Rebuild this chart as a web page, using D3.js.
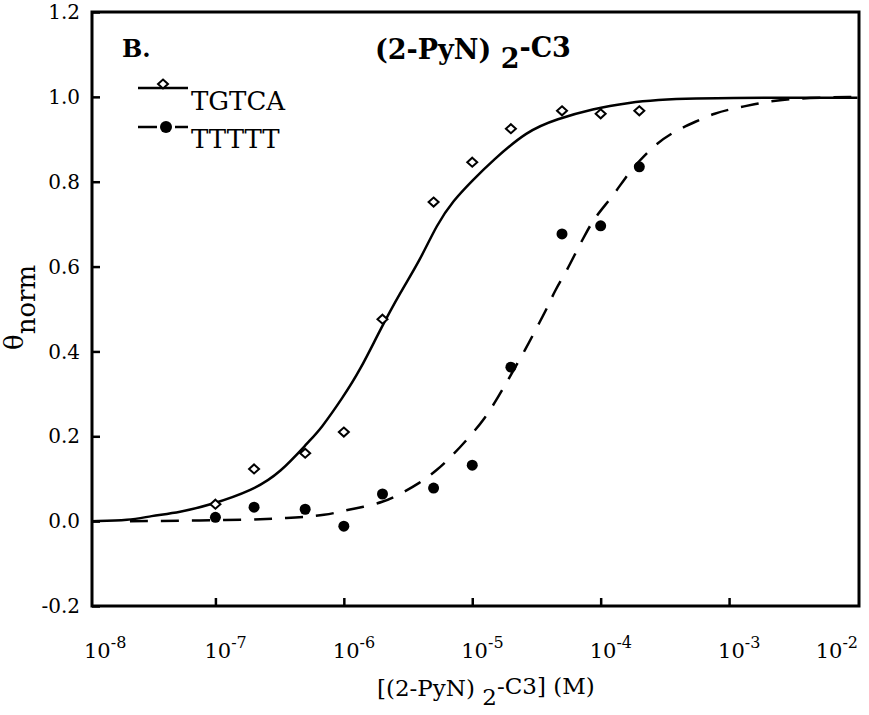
<!DOCTYPE html>
<html>
<head>
<meta charset="utf-8">
<script src="https://cdn.jsdelivr.net/npm/d3@7"></script>
<style>
  html, body { margin: 0; padding: 0; background: #fff; }
  svg { display: block; }
</style>
</head>
<body>
<div id="chart"></div>
<script>
// measured concentrations (M)
const conc = [1e-7, 2e-7, 5e-7, 1e-6, 2e-6, 5e-6, 1e-5, 2e-5, 5e-5, 1e-4, 2e-4];
const tgtca = [0.040, 0.123, 0.160, 0.210, 0.476, 0.752, 0.846, 0.925, 0.967, 0.960, 0.967];
const ttttt = [0.009, 0.033, 0.028, -0.012, 0.064, 0.078, 0.132, 0.363, 0.677, 0.696, 0.835];

// fitted curves
const fitTgtcaX = [1.09e-8, 2.16e-8, 3.10e-8, 5.30e-8, 9.07e-8, 1.96e-7, 3.18e-7, 5.45e-7, 6.53e-7,
  9.86e-7, 1.34e-6, 1.91e-6, 2.74e-6, 3.92e-6, 5.32e-6, 7.08e-6, 1.01e-5, 1.43e-5, 2.67e-5,
  4.57e-5, 8.72e-5, 1.61e-4, 3.66e-4, 1e-2];
const fitTgtcaY = [0.000, 0.002, 0.012, 0.021, 0.038, 0.073, 0.113, 0.191, 0.215,
  0.292, 0.356, 0.450, 0.538, 0.615, 0.700, 0.755, 0.804, 0.849, 0.920,
  0.948, 0.972, 0.986, 0.998, 0.998];

const fitTttttX = [2.16e-8, 1.37e-7, 3.81e-7, 7.40e-7, 1.03e-6, 1.41e-6, 2.02e-6, 2.64e-6, 3.92e-6,
  5.32e-6, 7.08e-6, 9.61e-6, 1.26e-5, 1.56e-5, 1.90e-5, 2.67e-5, 3.25e-5, 3.83e-5, 4.42e-5,
  5.38e-5, 6.55e-5, 7.56e-5, 9.04e-5, 1.23e-4, 1.55e-4, 1.96e-4, 2.75e-4, 3.94e-4, 5.43e-4,
  7.78e-4, 1.07e-3, 1.59e-3, 2.20e-3, 4.05e-3, 1e-2];
const fitTttttY = [0.000, 0.002, 0.007, 0.014, 0.026, 0.033, 0.045, 0.061, 0.090,
  0.120, 0.156, 0.200, 0.243, 0.288, 0.333, 0.411, 0.462, 0.502, 0.545,
  0.587, 0.639, 0.675, 0.717, 0.764, 0.809, 0.847, 0.892, 0.922, 0.941,
  0.962, 0.972, 0.983, 0.991, 0.998, 1.000];

const xTicks = [1e-8, 1e-7, 1e-6, 1e-5, 1e-4, 1e-3, 1e-2];
const xTickExp = ['-8', '-7', '-6', '-5', '-4', '-3', '-2'];
const yTicks = [-0.2, 0.0, 0.2, 0.4, 0.6, 0.8, 1.0, 1.2];

const seriesNames = ['TGTCA', 'TTTTT'];

const width = 869;
const height = 715;
const plot = { left: 92, right: 859, top: 12, bottom: 606 };
const serif = '"DejaVu Serif", serif';

const x = d3.scaleLog()
  .domain([1e-8, 1e-2])
  .range([87, 857.5]);

const y = d3.scaleLinear()
  .domain([-0.2, 1.2])
  .range([plot.bottom, plot.top]);

const svg = d3.select('#chart')
  .append('svg')
  .attr('width', width)
  .attr('height', height);

svg.append('defs')
  .append('clipPath')
  .attr('id', 'plot-clip')
  .append('rect')
  .attr('x', plot.left)
  .attr('y', plot.top)
  .attr('width', plot.right - plot.left)
  .attr('height', plot.bottom - plot.top);

// y axis, ticks pointing inward
const yAxis = d3.axisRight(y)
  .tickValues(yTicks)
  .tickSize(8)
  .tickFormat('');

svg.append('g')
  .attr('transform', `translate(${plot.left},0)`)
  .call(yAxis)
  .call(g => g.select('.domain').remove())
  .call(g => g.selectAll('line').attr('stroke', '#000').attr('stroke-width', 2.5));

// plain hyphen for the minus sign, as in the original
const fmtY = d => d3.format('.1f')(d).replace('\u2212', '-');

svg.append('g')
  .selectAll('text')
  .data(yTicks)
  .enter().append('text')
    .attr('x', 80)
    .attr('y', d => y(d))
    .attr('dy', '0.36em')
    .attr('text-anchor', 'end')
    .attr('font-family', serif)
    .attr('font-size', 20)
    .text(fmtY);

// x axis, ticks pointing inward
const xAxis = d3.axisTop(x)
  .tickValues(xTicks.slice(1, -1))
  .tickSize(8)
  .tickFormat('');

svg.append('g')
  .attr('transform', `translate(0,${plot.bottom})`)
  .call(xAxis)
  .call(g => g.select('.domain').remove())
  .call(g => g.selectAll('line').attr('stroke', '#000').attr('stroke-width', 2.5));

const xLabels = svg.append('g')
  .selectAll('text')
  .data(xTicks)
  .enter().append('text')
    .attr('y', 658)
    .attr('font-family', serif)
    .attr('font-size', 21);

xLabels.append('tspan').text('10');
xLabels.append('tspan')
  .attr('font-size', 16)
  .attr('dy', -10)
  .text((d, i) => xTickExp[i]);

xLabels.each(function (d) {
  const w = this.getComputedTextLength();
  let left = x(d) - 11;
  left = Math.max(84, Math.min(left, 858 - w));
  d3.select(this).attr('x', left);
});

// frame
svg.append('rect')
  .attr('x', plot.left)
  .attr('y', plot.top)
  .attr('width', plot.right - plot.left)
  .attr('height', plot.bottom - plot.top)
  .attr('fill', 'none')
  .attr('stroke', '#000')
  .attr('stroke-width', 3);

// fitted curves
const line = d3.line()
  .x(d => x(d[0]))
  .y(d => y(d[1]))
  .curve(d3.curveBasis);

const curves = svg.append('g').attr('clip-path', 'url(#plot-clip)');

curves.append('path')
  .attr('d', line(d3.zip(fitTgtcaX, fitTgtcaY)))
  .attr('fill', 'none')
  .attr('stroke', '#000')
  .attr('stroke-width', 2.5);

curves.append('path')
  .attr('d', line(d3.zip(fitTttttX, fitTttttY)))
  .attr('fill', 'none')
  .attr('stroke', '#000')
  .attr('stroke-width', 2.5)
  .attr('stroke-dasharray', '18,13');

const diamond = 'M0,-4.5L5,0L0,4.5L-5,0Z';

// data points
svg.append('g')
  .selectAll('path')
  .data(d3.zip(conc, tgtca))
  .enter().append('path')
    .attr('d', diamond)
    .attr('transform', d => `translate(${x(d[0])},${y(d[1])})`)
    .attr('fill', '#fff')
    .attr('stroke', '#000')
    .attr('stroke-width', 2);

svg.append('g')
  .selectAll('circle')
  .data(d3.zip(conc, ttttt))
  .enter().append('circle')
    .attr('cx', d => x(d[0]))
    .attr('cy', d => y(d[1]))
    .attr('r', 5.5)
    .attr('fill', '#000');

// panel label and title
svg.append('text')
  .attr('x', 122)
  .attr('y', 57)
  .attr('font-family', serif)
  .attr('font-weight', 'bold')
  .attr('font-size', 24)
  .text('B.');

const title = svg.append('text')
  .attr('x', 375)
  .attr('y', 59)
  .attr('font-family', serif)
  .attr('font-weight', 'bold')
  .attr('font-size', 27);
title.append('tspan').text('(2-PyN) ');
title.append('tspan').attr('dy', 9).text('2');
title.append('tspan').attr('dy', -11).text('-C3');

// legend
const legend = svg.append('g');

legend.append('line')
  .attr('x1', 138).attr('x2', 188)
  .attr('y1', 88).attr('y2', 88)
  .attr('stroke', '#000')
  .attr('stroke-width', 2.5);

legend.append('path')
  .attr('d', diamond)
  .attr('transform', 'translate(163,84)')
  .attr('fill', '#fff')
  .attr('stroke', '#000')
  .attr('stroke-width', 2);

legend.append('line')
  .attr('x1', 138).attr('x2', 188)
  .attr('y1', 127).attr('y2', 127)
  .attr('stroke', '#000')
  .attr('stroke-width', 2.5)
  .attr('stroke-dasharray', '19,18,13');

legend.append('circle')
  .attr('cx', 166)
  .attr('cy', 127)
  .attr('r', 6)
  .attr('fill', '#000');

legend.selectAll('text.name')
  .data(seriesNames)
  .enter().append('text')
    .attr('class', 'name')
    .attr('x', 191)
    .attr('y', (d, i) => 110 + i * 38)
    .attr('font-family', serif)
    .attr('font-size', 26)
    .text(d => d);

// axis titles
const xTitle = svg.append('text')
  .attr('x', 377)
  .attr('y', 696)
  .attr('font-family', serif)
  .attr('font-size', 23);
xTitle.append('tspan').text('[(2-PyN) ');
xTitle.append('tspan').attr('dy', 9).text('2');
xTitle.append('tspan').attr('dy', -11).text('-C3] (M)');

const yTitle = svg.append('text')
  .attr('transform', 'translate(23,350) rotate(-90)')
  .attr('font-family', serif)
  .attr('font-size', 26);
yTitle.append('tspan').text('θ');
yTitle.append('tspan').attr('dy', 12).text('norm');
</script>
</body>
</html>
